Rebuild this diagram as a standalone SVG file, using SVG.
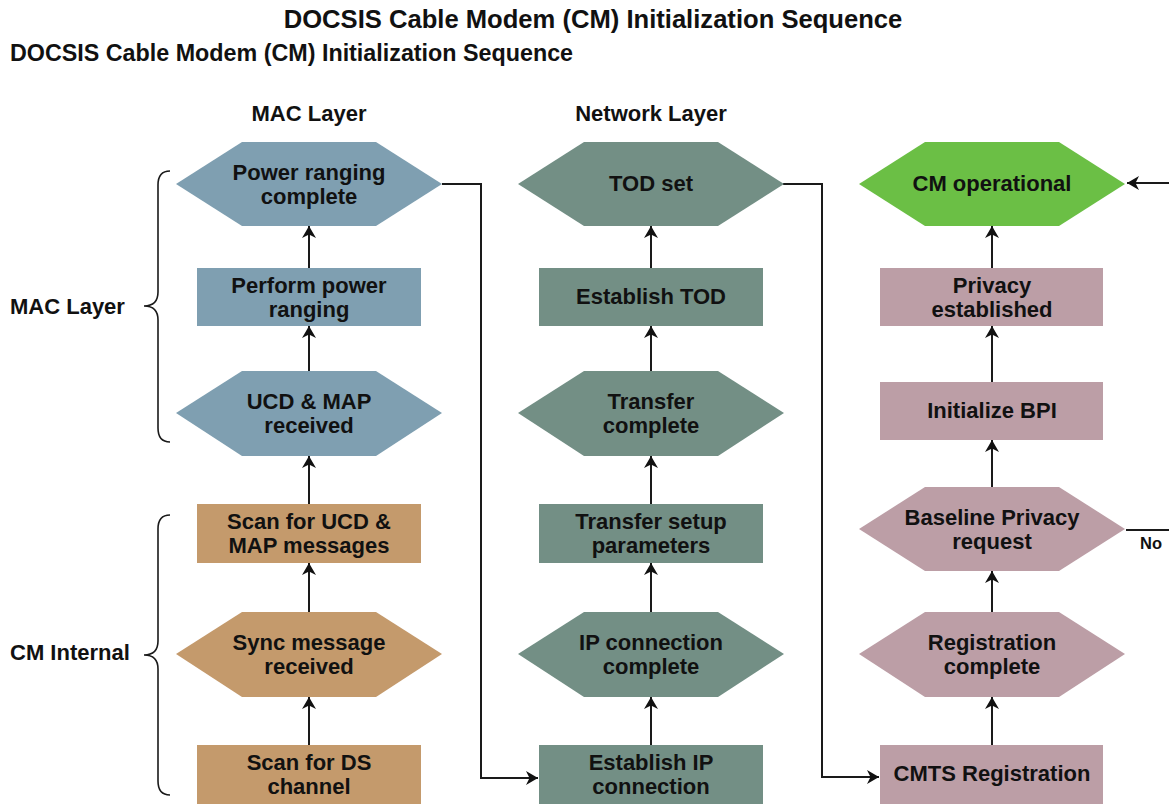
<svg xmlns="http://www.w3.org/2000/svg" width="1169" height="804" viewBox="0 0 1169 804">
<defs>
<marker id="ah" viewBox="0 0 12 14" refX="12" refY="7" markerWidth="12" markerHeight="14" markerUnits="userSpaceOnUse" orient="auto">
<path d="M0,0 L12,7 L0,14 L3.5,7 Z" fill="#111"/>
</marker>
</defs>
<style>
text{font-family:"Liberation Sans",Arial,sans-serif;font-weight:bold;fill:#111}
.t{font-size:22px;text-anchor:middle}
.hd{font-size:22px;text-anchor:middle}
.side{font-size:22px}
.mac{fill:#7f9fb1}
.cm{fill:#c49a6c}
.net{fill:#738f85}
.reg{fill:#bc9ea6}
.ok{fill:#6bbf45}
.ln{fill:none;stroke:#1a1a1a;stroke-width:2}
.ar{fill:none;stroke:#1a1a1a;stroke-width:2;marker-end:url(#ah)}
.br{fill:none;stroke:#1a1a1a;stroke-width:1.6}
</style>
<rect width="1169" height="804" fill="#fff"/>
<text x="593" y="28" style="font-size:25.6px;text-anchor:middle">DOCSIS Cable Modem (CM) Initialization Sequence</text>
<text x="10" y="61" style="font-size:23.3px">DOCSIS Cable Modem (CM) Initialization Sequence</text>
<text class="hd" x="309" y="121">MAC Layer</text>
<text class="hd" x="651" y="121">Network Layer</text>
<g id="labels">
<text class="side" x="10" y="314">MAC Layer</text>
<text class="side" x="10" y="660">CM Internal</text>
<path class="br" d="M170,171 Q158,171 158,185 L158,292 Q158,306 144,306 Q158,306 158,320 L158,428 Q158,442 170,442"/>
<path class="br" d="M170,515 Q158,515 158,529 L158,641 Q158,655 144,655 Q158,655 158,669 L158,781 Q158,795 170,795"/>
</g>
<g id="connectors">
<line class="ar" x1="309" y1="268" x2="309" y2="226"/>
<line class="ar" x1="309" y1="371" x2="309" y2="326"/>
<line class="ar" x1="309" y1="504" x2="309" y2="456"/>
<line class="ar" x1="309" y1="612" x2="309" y2="563"/>
<line class="ar" x1="309" y1="745" x2="309" y2="697"/>
<line class="ar" x1="651" y1="268" x2="651" y2="226"/>
<line class="ar" x1="651" y1="371" x2="651" y2="326"/>
<line class="ar" x1="651" y1="504" x2="651" y2="456"/>
<line class="ar" x1="651" y1="612" x2="651" y2="563"/>
<line class="ar" x1="651" y1="745" x2="651" y2="697"/>
<line class="ar" x1="992" y1="268" x2="992" y2="226"/>
<line class="ar" x1="992" y1="382" x2="992" y2="326"/>
<line class="ar" x1="992" y1="487" x2="992" y2="440"/>
<line class="ar" x1="992" y1="612" x2="992" y2="571"/>
<line class="ar" x1="992" y1="745" x2="992" y2="697"/>
<polyline class="ar" points="442,184 481,184 481,778 538,778"/>
<polyline class="ar" points="783,184 822,184 822,777 879,777"/>
<line class="ar" x1="1169" y1="183" x2="1127" y2="183"/>
<line class="ln" x1="1126" y1="530" x2="1169" y2="530"/>
<text x="1140" y="549" style="font-size:16.5px">No</text>
</g>
<g id="n1"><polygon class="mac" points="176,184 242,142 376,142 442,184 376,226 242,226"/><text class="t" x="309" y="180">Power ranging</text><text class="t" x="309" y="204">complete</text></g>
<g id="n2"><rect class="mac" x="197" y="268" width="224" height="58"/><text class="t" x="309" y="293">Perform power</text><text class="t" x="309" y="317">ranging</text></g>
<g id="n3"><polygon class="mac" points="176,413 242,371 376,371 442,413 376,456 242,456"/><text class="t" x="309" y="409">UCD &amp; MAP</text><text class="t" x="309" y="433">received</text></g>
<g id="n4"><rect class="cm" x="197" y="504" width="224" height="59"/><text class="t" x="309" y="529">Scan for UCD &amp;</text><text class="t" x="309" y="553">MAP messages</text></g>
<g id="n5"><polygon class="cm" points="176,654 242,612 376,612 442,654 376,697 242,697"/><text class="t" x="309" y="650">Sync message</text><text class="t" x="309" y="674">received</text></g>
<g id="n6"><rect class="cm" x="197" y="745" width="224" height="62"/><text class="t" x="309" y="770">Scan for DS</text><text class="t" x="309" y="794">channel</text></g>
<g id="n7"><polygon class="net" points="518,184 584,142 718,142 784,184 718,226 584,226"/><text class="t" x="651" y="191">TOD set</text></g>
<g id="n8"><rect class="net" x="539" y="268" width="224" height="58"/><text class="t" x="651" y="304">Establish TOD</text></g>
<g id="n9"><polygon class="net" points="518,413 584,371 718,371 784,413 718,456 584,456"/><text class="t" x="651" y="409">Transfer</text><text class="t" x="651" y="433">complete</text></g>
<g id="n10"><rect class="net" x="539" y="504" width="224" height="59"/><text class="t" x="651" y="529">Transfer setup</text><text class="t" x="651" y="553">parameters</text></g>
<g id="n11"><polygon class="net" points="518,654 584,612 718,612 784,654 718,697 584,697"/><text class="t" x="651" y="650">IP connection</text><text class="t" x="651" y="674">complete</text></g>
<g id="n12"><rect class="net" x="539" y="745" width="224" height="62"/><text class="t" x="651" y="770">Establish IP</text><text class="t" x="651" y="794">connection</text></g>
<g id="n13"><polygon class="ok" points="859,184 925,142 1059,142 1125,184 1059,226 925,226"/><text class="t" x="992" y="191">CM operational</text></g>
<g id="n14"><rect class="reg" x="880" y="268" width="223" height="58"/><text class="t" x="992" y="293">Privacy</text><text class="t" x="992" y="317">established</text></g>
<g id="n15"><rect class="reg" x="880" y="382" width="223" height="58"/><text class="t" x="992" y="418">Initialize BPI</text></g>
<g id="n16"><polygon class="reg" points="859,529 925,487 1059,487 1125,529 1059,571 925,571"/><text class="t" x="992" y="525">Baseline Privacy</text><text class="t" x="992" y="549">request</text></g>
<g id="n17"><polygon class="reg" points="859,654 925,612 1059,612 1125,654 1059,697 925,697"/><text class="t" x="992" y="650">Registration</text><text class="t" x="992" y="674">complete</text></g>
<g id="n18"><rect class="reg" x="880" y="745" width="223" height="62"/><text class="t" x="992" y="781">CMTS Registration</text></g>
</svg>
